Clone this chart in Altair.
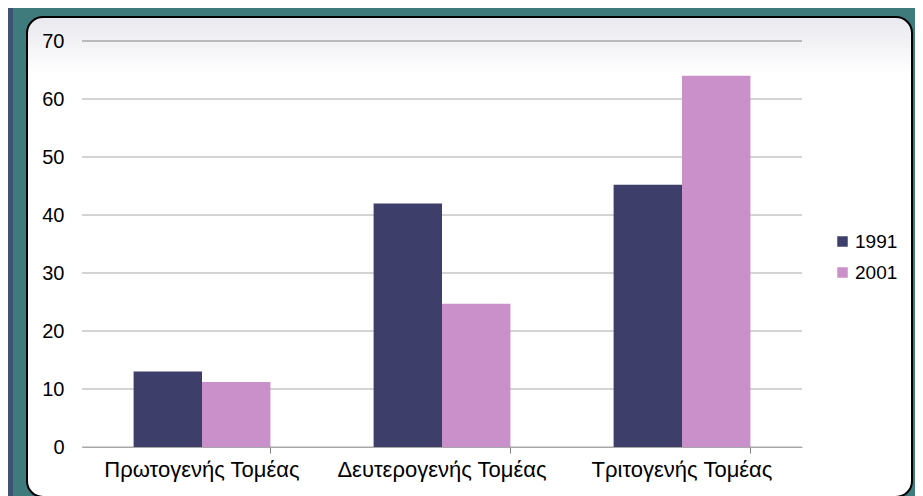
import altair as alt
import pandas as pd

categories = ["Πρωτογενής Τομέας", "Δευτερογενής Τομέας", "Τριτογενής Τομέας"]
years = ["1991", "2001"]
values_1991 = [13.0, 42.0, 45.2]
values_2001 = [11.2, 24.7, 64.0]
y_ticks = [0, 10, 20, 30, 40, 50, 60, 70]
bar_colors = ["#3d3f6a", "#c990c9"]

rows = []
for c, a, b in zip(categories, values_1991, values_2001):
    rows.append({"sector": c, "year": "1991", "value": a})
    rows.append({"sector": c, "year": "2001", "value": b})
df = pd.DataFrame(rows)

W, H = 720, 406
FONT = "Liberation Sans"

xscale = alt.Scale(domain=categories, paddingInner=0.43, paddingOuter=0.215)
yscale = alt.Scale(domain=[0, 70], nice=False)
y_axis = alt.Axis(values=y_ticks, grid=False, domain=False, ticks=False,
                  labelFontSize=20, labelPadding=18, labelColor="#000000",
                  labelFont=FONT, zindex=1, title=None)

panel_fill = alt.LinearGradient(
    gradient="linear", x1=0, y1=0, x2=0, y2=1,
    stops=[alt.GradientStop(color="#e8e8ee", offset=0),
           alt.GradientStop(color="#ffffff", offset=0.12),
           alt.GradientStop(color="#ffffff", offset=1)])

one = pd.DataFrame({"k": [0]})

stripe = alt.Chart(one).mark_rect(fill="#3d5373").encode(
    x=alt.value(-74), x2=alt.value(-69), y=alt.value(-33), y2=alt.value(H + 49))

panel = alt.Chart(one).mark_rect(
    fill=panel_fill, stroke="black", strokeWidth=2, cornerRadius=16).encode(
    x=alt.value(-55), x2=alt.value(830), y=alt.value(-24), y2=alt.value(H + 50))

grid = alt.Chart(pd.DataFrame({"v": y_ticks})).mark_rule(strokeWidth=1).encode(
    y=alt.Y("v:Q", scale=yscale, axis=y_axis, title=None),
    x=alt.value(0), x2=alt.value(W),
    stroke=alt.condition("datum.v == 70", alt.value("#808080"), alt.value("#a8a8a8")))

bars = alt.Chart(df).mark_bar().encode(
    x=alt.X("sector:N", sort=categories, scale=xscale, title=None,
            axis=alt.Axis(orient="bottom", labelAngle=0, ticks=False, domain=True,
                          domainColor="#a8a8a8", labelFontSize=22, labelPadding=12,
                          labelColor="#000000", labelFont=FONT, zindex=1,
                          labelLimit=400)),
    xOffset=alt.XOffset("year:N", sort=years, scale=alt.Scale(paddingInner=0, paddingOuter=0)),
    y=alt.Y("value:Q", scale=yscale, title=None, axis=y_axis),
    color=alt.Color("year:N", sort=years,
                    scale=alt.Scale(domain=years, range=bar_colors),
                    legend=alt.Legend(title=None, orient="none", legendX=751, legendY=191,
                                      symbolType="square", symbolSize=110,
                                      symbolStrokeWidth=0, labelFontSize=19,
                                      labelFont=FONT, labelColor="#000000",
                                      rowPadding=11, labelOffset=3, padding=0,
                                      zindex=1)),
)

ticks_layer = alt.Chart(df).mark_bar(opacity=0).encode(
    x=alt.X("sector:N", sort=categories, scale=xscale, title=None,
            axis=alt.Axis(orient="bottom", labels=False, domain=False, ticks=True,
                          bandPosition=1, tickSize=6, tickColor="#808080", zindex=1)),
    y=alt.Y("value:Q", scale=yscale, title=None, axis=y_axis),
)

chart = alt.layer(stripe, panel, grid, bars, ticks_layer).resolve_axis(
    x="independent"
).properties(
    width=W, height=H,
    padding={"left": 74, "top": 33, "right": 113, "bottom": 49},
    autosize="none",
    background="#3f7a7d",
).configure_view(stroke=None).configure(font=FONT)

chart.save("out.html", embed_options={"renderer": "svg", "actions": False})
